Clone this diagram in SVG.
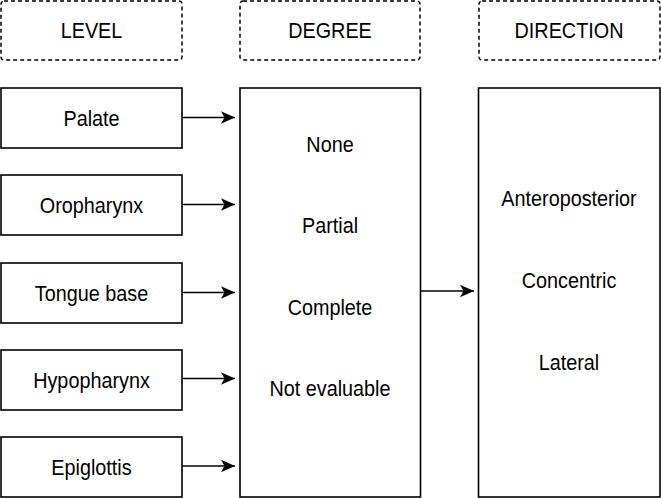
<svg xmlns="http://www.w3.org/2000/svg" width="661" height="498" viewBox="0 0 661 498">
<style>
  .hdr { fill: #fff; stroke: #000; stroke-width: 1.5; stroke-dasharray: 4 3; }
  .box { fill: #fff; stroke: #000; stroke-width: 1.6; }
  .lbl { font-family: "Liberation Sans", Arial, sans-serif; font-size: 22.5px; fill: #000; text-anchor: middle; }
  .edge { stroke: #000; stroke-width: 1.5; fill: none; marker-end: url(#arr); }
</style>
<defs>
  <marker id="arr" markerUnits="userSpaceOnUse" markerWidth="16" markerHeight="14" refX="15" refY="7" orient="auto" viewBox="0 0 16 14">
    <path d="M15,7 L1,0.7 L4.5,7 L1,13.3 Z" fill="#000"/>
  </marker>
</defs>
<rect width="661" height="498" fill="#fff"/>

<g id="hdr-level">
  <rect class="hdr" x="1" y="1" width="181" height="59" rx="3"/>
  <text class="lbl" transform="translate(91.5,37.7) scale(0.88,1)">LEVEL</text>
</g>
<g id="hdr-degree">
  <rect class="hdr" x="240" y="1" width="180" height="59" rx="3"/>
  <text class="lbl" transform="translate(330,37.7) scale(0.88,1)">DEGREE</text>
</g>
<g id="hdr-direction">
  <rect class="hdr" x="479" y="1" width="181" height="59" rx="3"/>
  <text class="lbl" transform="translate(569,37.7) scale(0.88,1)">DIRECTION</text>
</g>

<g id="palate">
  <rect class="box" x="1" y="88" width="181" height="60"/>
  <text class="lbl" transform="translate(91.5,126) scale(0.88,1)">Palate</text>
</g>
<g id="oropharynx">
  <rect class="box" x="1" y="175" width="181" height="60"/>
  <text class="lbl" transform="translate(91.5,213.3) scale(0.88,1)">Oropharynx</text>
</g>
<g id="tongue-base">
  <rect class="box" x="1" y="263" width="181" height="60"/>
  <text class="lbl" transform="translate(91.5,300.5) scale(0.88,1)">Tongue base</text>
</g>
<g id="hypopharynx">
  <rect class="box" x="1" y="350" width="181" height="60"/>
  <text class="lbl" transform="translate(91.5,388) scale(0.88,1)">Hypopharynx</text>
</g>
<g id="epiglottis">
  <rect class="box" x="1" y="437" width="181" height="60"/>
  <text class="lbl" transform="translate(91.5,475) scale(0.88,1)">Epiglottis</text>
</g>

<g id="degree">
  <rect class="box" x="240" y="88" width="180.5" height="409"/>
  <text class="lbl" transform="translate(330,151.7) scale(0.88,1)">None</text>
  <text class="lbl" transform="translate(330,233.3) scale(0.88,1)">Partial</text>
  <text class="lbl" transform="translate(330,315) scale(0.88,1)">Complete</text>
  <text class="lbl" transform="translate(330,395.5) scale(0.88,1)">Not evaluable</text>
</g>

<g id="direction">
  <rect class="box" x="478.5" y="88" width="181.5" height="409"/>
  <text class="lbl" transform="translate(569,206) scale(0.88,1)">Anteroposterior</text>
  <text class="lbl" transform="translate(569,288.3) scale(0.88,1)">Concentric</text>
  <text class="lbl" transform="translate(569,370) scale(0.88,1)">Lateral</text>
</g>

<g id="connectors">
  <line class="edge" x1="182" y1="117.5" x2="235" y2="117.5"/>
  <line class="edge" x1="182" y1="204.5" x2="235" y2="204.5"/>
  <line class="edge" x1="182" y1="292.5" x2="235" y2="292.5"/>
  <line class="edge" x1="182" y1="378.5" x2="235" y2="378.5"/>
  <line class="edge" x1="182" y1="466" x2="235" y2="466"/>
  <line class="edge" x1="420.5" y1="291" x2="474" y2="291"/>
</g>
</svg>
